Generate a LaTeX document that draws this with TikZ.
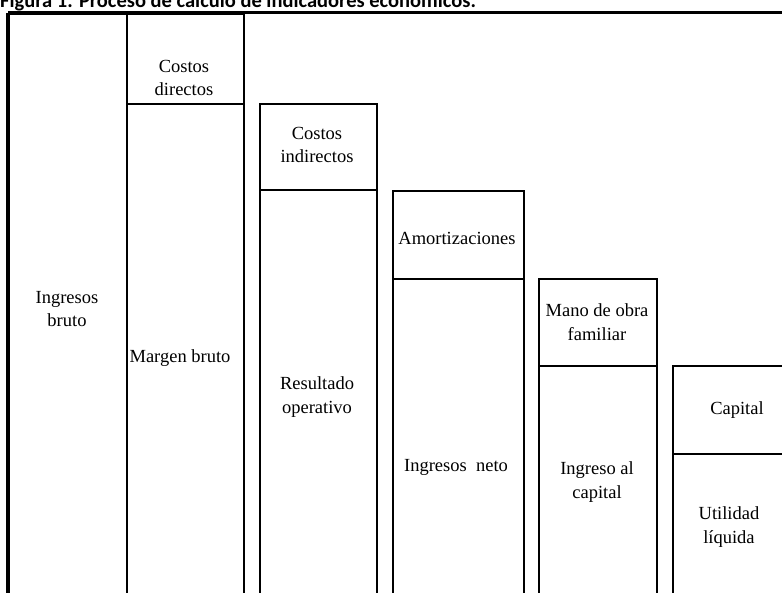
\documentclass[tikz,border=0pt]{standalone}
\usepackage{fontspec}
\setmainfont{Liberation Serif}
\newfontfamily\titlefont{Carlito}

\begin{document}
\begin{tikzpicture}[
    x=1pt, y=-1pt,
    cell/.style={rectangle, draw, line width=2pt, inner sep=0pt, anchor=north west},
    lbl/.style={align=center, inner sep=0pt, font=\fontsize{18.5}{23.5}\selectfont},
    frame/.style={line width=3pt},
]
\useasboundingbox (0,0) rectangle (782,593);
\clip (0,0) rectangle (782,593);

% Titulo (cortado arriba)
\node[anchor=base west, inner sep=0pt, font=\titlefont\bfseries\fontsize{20.5}{24}\selectfont] (title) at (0,8) {Figura 1. Proceso de cálculo de indicadores económicos.};

% Columna 1: ingresos brutos
\node[cell, minimum width=118, minimum height=600] (ib) at (8,13) {};

% Columna 2: costos directos y margen bruto
\node[cell, minimum width=117, minimum height=90] (cd) at (126,13) {};
\node[cell, minimum width=117, minimum height=510] (mb) at (126,103) {};

% Columna 3: costos indirectos y resultado operativo
\node[cell, minimum width=117, minimum height=86.5] (ci) at (259,103) {};
\node[cell, minimum width=117, minimum height=430] (ro) at (259,189.5) {};

% Columna 4: amortizaciones e ingresos netos
\node[cell, minimum width=131, minimum height=88] (am) at (392,190.5) {};
\node[cell, minimum width=131, minimum height=340] (in) at (392,278.5) {};

% Columna 5: mano de obra familiar e ingreso al capital
\node[cell, minimum width=118, minimum height=86.5] (mo) at (538,278.5) {};
\node[cell, minimum width=118, minimum height=260] (ic) at (538,365) {};

% Columna 6: capital y utilidad liquida
\node[cell, minimum width=118, minimum height=87.5] (ca) at (672,365.5) {};
\node[cell, minimum width=118, minimum height=200] (ul) at (672,453) {};

% Marco: linea superior y borde izquierdo
\coordinate (tl) at (8,13);
\coordinate (tr) at (782,13);
\coordinate (bl) at (8,593);
\draw[frame] (tl) -- (tr);
\draw[line width=4pt] (tl) -- (bl);

% Textos
\node[lbl] (t-ib) at (67,309) {Ingresos\\bruto};
\node[lbl] (t-cd) at (184,78) {Costos\\directos};
\node[lbl] (t-mb) at (180,358) {Margen bruto};
\node[lbl] (t-ci) at (317,145) {Costos\\indirectos};
\node[lbl] (t-ro) at (317,397) {Resultado\\operativo};
\node[lbl] (t-am) at (457,238) {Amortizaciones};
\node[lbl] (t-in) at (456,467) {Ingresos\ \ neto};
\node[lbl] (t-mo) at (597,322) {Mano de obra\\familiar};
\node[lbl] (t-ic) at (597,482) {Ingreso al\\capital};
\node[lbl] (t-ca) at (737,410) {Capital};
\node[lbl] (t-ul) at (729,527) {Utilidad\\líquida};

\end{tikzpicture}
\end{document}
